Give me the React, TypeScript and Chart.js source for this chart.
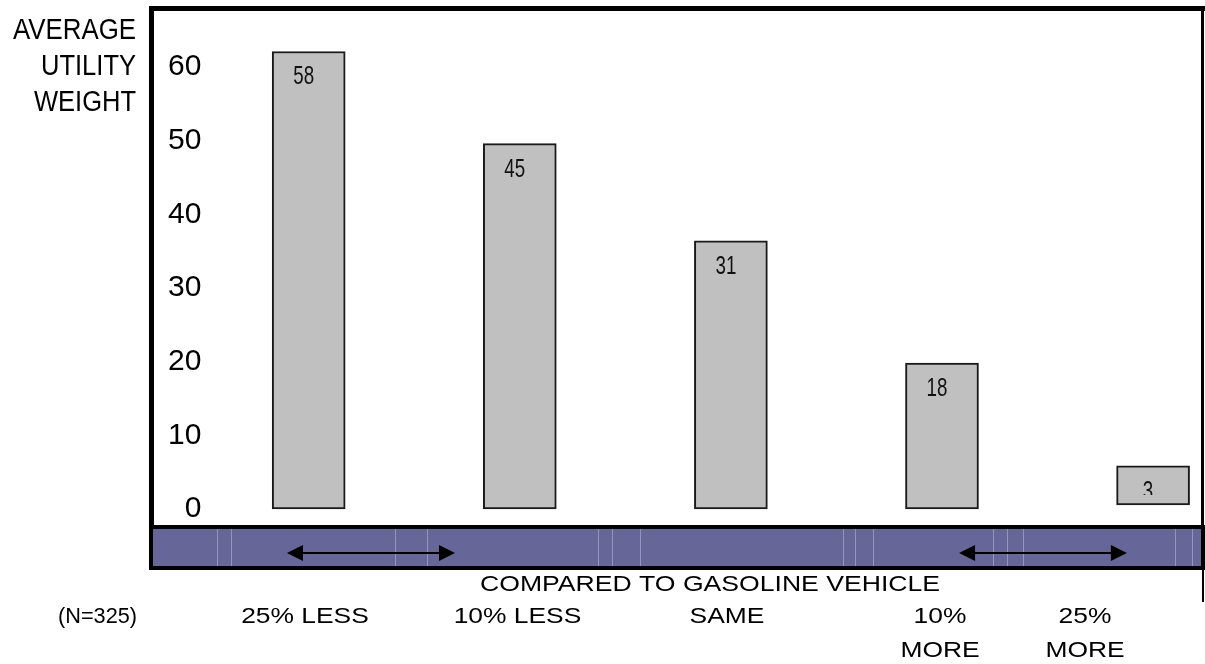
import React, { useEffect, useRef } from "react";
import { Chart, registerables } from "chart.js";

Chart.register(...registerables);

// ---- data ----
const categoryLines: string[][] = [["25% LESS"], ["10% LESS"], ["SAME"], ["10%", "MORE"], ["25%", "MORE"]];
const barBottoms = [0, 0, 0, 0, 0.55];
const barTops = [62.1, 49.6, 36.4, 19.8, 5.85];
const valueLabels = ["58", "45", "31", "18", "3"];
const yTicks = [0, 10, 20, 30, 40, 50, 60];
const yTitleLines = ["AVERAGE", "UTILITY", "WEIGHT"];
const xTitle = "COMPARED TO GASOLINE VEHICLE";
const sampleNote = "(N=325)";
// arrows drawn in the band, expressed in x-scale units
const arrowSpans: [number, number][] = [[-0.103, 0.693], [3.081, 3.876]];

const FONT = '"Liberation Sans", Arial, Helvetica, sans-serif';

function drawText(ctx: CanvasRenderingContext2D, text: string, x: number, y: number, size: number, sx: number, align: CanvasTextAlign, color = "#000") {
  ctx.save();
  ctx.font = `${size}px ${FONT}`;
  ctx.fillStyle = color;
  ctx.textAlign = align;
  ctx.textBaseline = "middle";
  ctx.translate(x, y);
  ctx.scale(sx, 1);
  ctx.fillText(text, 0, 0);
  ctx.restore();
}

function drawFit(ctx: CanvasRenderingContext2D, text: string, x: number, y: number, size: number, width: number, align: CanvasTextAlign) {
  ctx.save();
  ctx.font = `${size}px ${FONT}`;
  const w = ctx.measureText(text).width;
  ctx.restore();
  drawText(ctx, text, x, y, size, width / w, align);
}

function arrow(ctx: CanvasRenderingContext2D, x1: number, x2: number, y: number) {
  const hl = 16, hw = 8;
  ctx.save();
  ctx.strokeStyle = "#000";
  ctx.fillStyle = "#000";
  ctx.lineWidth = 2;
  ctx.beginPath();
  ctx.moveTo(x1 + hl - 2, y);
  ctx.lineTo(x2 - hl + 2, y);
  ctx.stroke();
  ctx.beginPath();
  ctx.moveTo(x1, y);
  ctx.lineTo(x1 + hl, y - hw);
  ctx.lineTo(x1 + hl, y + hw);
  ctx.closePath();
  ctx.fill();
  ctx.beginPath();
  ctx.moveTo(x2, y);
  ctx.lineTo(x2 - hl, y - hw);
  ctx.lineTo(x2 - hl, y + hw);
  ctx.closePath();
  ctx.fill();
  ctx.restore();
}

const decor = {
  id: "decor",
  afterDraw(chart: any) {
    const ctx: CanvasRenderingContext2D = chart.ctx;
    const { left, top, right, bottom } = chart.chartArea;
    const xs = chart.scales.x;

    // bar value labels
    const meta = chart.getDatasetMeta(0);
    meta.data.forEach((bar: any, i: number) => {
      const topY = Math.min(bar.y, bar.base);
      const baseY = Math.max(bar.y, bar.base);
      ctx.save();
      ctx.beginPath();
      ctx.rect(bar.x - 40, topY, 80, baseY - topY - 10);
      ctx.clip();
      drawText(ctx, valueLabels[i], bar.x - 5, topY + 26, 25, 0.75, "center", "#111");
      ctx.restore();
    });

    ctx.save();
    ctx.fillStyle = "#000";
    // plot frame
    ctx.fillRect(left - 5, top - 5, right + 4 - (left - 5), 5);
    ctx.fillRect(left - 5, top - 5, 5, bottom - top + 5);
    ctx.fillRect(right, top - 5, 3, bottom - top + 5);
    ctx.fillRect(left - 5, bottom, right + 4 - (left - 5), 4);
    // band
    ctx.fillStyle = "#666699";
    ctx.fillRect(left - 1, bottom + 4, right - left + 1, 37);
    ctx.fillStyle = "rgba(205,205,235,0.45)";
    [217, 231, 395, 427, 598, 612, 640, 843, 855, 873, 993, 1007, 1023, 1175, 1192].forEach((x) => {
      ctx.fillRect(x, bottom + 4, 1, 37);
    });
    ctx.fillStyle = "#000";
    ctx.fillRect(left - 5, bottom + 4, 4, 37);
    ctx.fillRect(right, bottom + 4, 4, 37);
    ctx.fillRect(left - 5, bottom + 41, right + 4 - (left - 5), 4);
    ctx.fillRect(right + 1, bottom + 45, 2, 32);
    ctx.restore();

    arrowSpans.forEach(([a, b]) => arrow(ctx, xs.getPixelForValue(a), xs.getPixelForValue(b), bottom + 28));

    // y title
    const yTitleY = [30.5, 66.5, 102.5];
    const yTitleW = [123, 95, 102];
    yTitleLines.forEach((t, i) => drawFit(ctx, t, 136, yTitleY[i], 30, yTitleW[i], "right"));

    // x title
    drawFit(ctx, xTitle, 710, 585, 22, 460, "center");
    // sample note
    drawFit(ctx, sampleNote, 97.5, 617, 22, 79, "center");
    // category labels
    const catX = [305, 517.5, 727, 940, 1085];
    categoryLines.forEach((lines, i) => {
      lines.forEach((ln, j) => drawText(ctx, ln, catX[i], 617 + j * 34, 22, 1.2, "center"));
    });
  },
};

export default function App() {
  const ref = useRef<HTMLCanvasElement>(null);
  useEffect(() => {
    const canvas = ref.current!;
    const chart = new Chart(canvas, {
      type: "bar",
      data: {
        datasets: [
          {
            data: barTops.map((t, i) => ({ x: i, y: [barBottoms[i], t] })) as any,
            backgroundColor: "#c0c0c0",
            borderColor: "#1a1a1a",
            borderWidth: 2,
            borderSkipped: false,
            barThickness: 73,
          },
        ],
      },
      options: {
        responsive: false,
        animation: false,
        layout: { padding: { left: 154, top: 11, right: 4, bottom: 139 } },
        plugins: { legend: { display: false }, tooltip: { enabled: false } },
        scales: {
          x: {
            type: "linear",
            display: false,
            offset: false,
            min: -0.7328,
            max: 4.227,
            afterFit: (s: any) => {
              s.paddingLeft = 0;
              s.paddingRight = 0;
            },
          },
          y: {
            type: "linear",
            min: -2.172,
            max: 67.602,
            afterBuildTicks: (axis: any) => {
              axis.ticks = yTicks.map((v) => ({ value: v }));
            },
            afterFit: (s: any) => {
              s.width = 0;
              s.paddingTop = 0;
              s.paddingBottom = 0;
            },
            grid: { display: false, drawTicks: false, tickLength: 0 },
            border: { display: false },
            ticks: {
              mirror: true,
              crossAlign: "far",
              padding: 14,
              color: "#000",
              font: { family: FONT, size: 30 },
            },
          },
        },
      } as any,
      plugins: [decor],
    });
    return () => chart.destroy();
  }, []);
  return (
    <div style={{ position: "fixed", left: 0, top: 0, width: 1205, height: 664, background: "#fff" }}>
      <canvas ref={ref} width={1205} height={664} style={{ width: 1205, height: 664, display: "block" }} />
    </div>
  );
}
